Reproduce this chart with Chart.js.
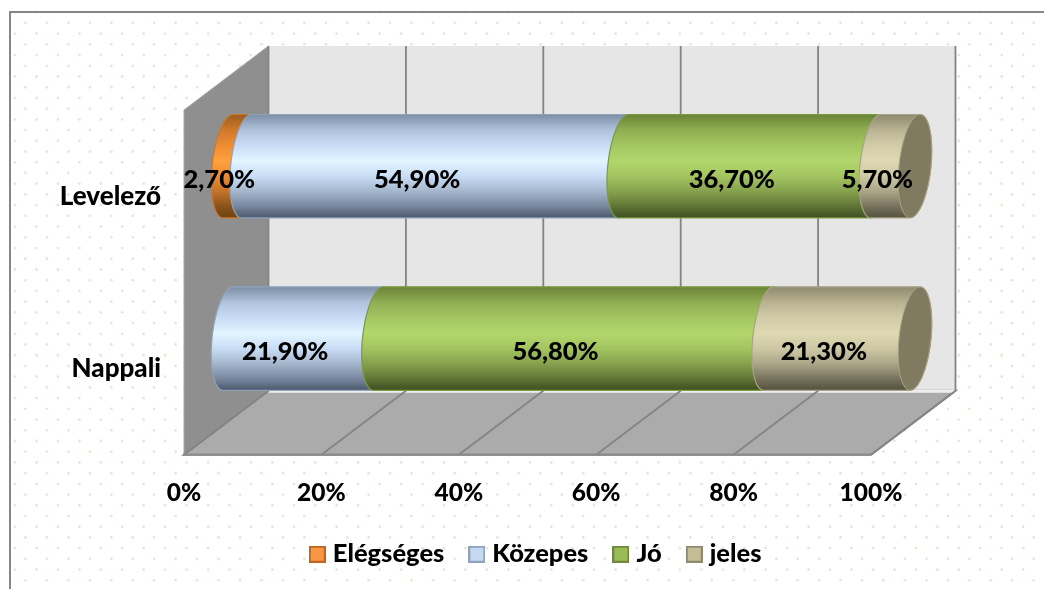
<!DOCTYPE html>
<html>
<head>
<meta charset="utf-8">
<style>html,body{margin:0;padding:0;background:#fff}canvas{display:block}</style>
<script src="https://cdn.jsdelivr.net/npm/chart.js@4"></script>
</head>
<body>
<canvas id="c" width="1044" height="589"></canvas>
<script>
const categories = ['Levelező', 'Nappali'];
const seriesNames = ['Elégséges', 'Közepes', 'Jó', 'jeles'];
const elegseges = [2.7, 0];
const kozepes = [54.9, 21.9];
const jo = [36.7, 56.8];
const jeles = [5.7, 21.3];
const tickValues = [0, 20, 40, 60, 80, 100];

const gradientStops = [0, .15, .3, .45, .6, .75, .9, 1];
const shades = [
  ['#9c5c1e','#d0792b','#ee8c33','#ffa23b','#ea8a31','#c2722a','#85501a','#70430f'],
  ['#7d8ea6','#b0c3dc','#c8dcf6','#e2f5ff','#c8dcf5','#a3b4ca','#74839a','#4b586a'],
  ['#6a8336','#8fae52','#a4c660','#b2d66c','#a3c45f','#84a04d','#5c7133','#3f4e22'],
  ['#8d8970','#b9b392','#d2cca8','#ded8b3','#cdc7a3','#a9a486','#746f5a','#555140']
];
const legendFill = ['#f79646', '#c6d9f1', '#9bbb59', '#c4bd97'];
const legendEdge = ['#c0651f', '#8fa2bb', '#6f8a3c', '#8e8a6e'];
const outline = ['#c97a2c', '#8ea3bd', '#7c9b3f', '#a8a386'];
const capFill = '#807b60';
const fontFamily = 'Lato, sans-serif';
const fontWeight = 900;

const depthX = 84.5, depthY = -64;   // back wall offset from the axis plane
const barX = 44, barY = -30;         // the bars stand half-way into the depth
const labelX = 26, labelY = -16.5;   // data labels sit slightly in front of them
const capA = 16, capK = -5;

function legendIcon(i) {
  const cv = document.createElement('canvas');
  cv.width = 17; cv.height = 17;
  const g = cv.getContext('2d');
  g.fillStyle = legendFill[i]; g.fillRect(1, 1, 15, 15);
  g.strokeStyle = legendEdge[i]; g.lineWidth = 2; g.strokeRect(1, 1, 15, 15);
  return cv;
}

function ell(cx, cy, b, t) {
  return [cx + capA * Math.cos(t) + capK * Math.sin(t), cy + b * Math.sin(t)];
}
function arc(ctx, cx, cy, b, from, to, first) {
  const n = 40;
  for (let i = 0; i <= n; i++) {
    const p = ell(cx, cy, b, from + (to - from) * i / n);
    if (i === 0 && first) ctx.moveTo(p[0], p[1]); else ctx.lineTo(p[0], p[1]);
  }
}

const backdrop = {
  id: 'backdrop',
  beforeDraw(chart) {
    const { ctx, chartArea: a, scales: { x } } = chart;
    ctx.save();
    ctx.fillStyle = '#fff';
    ctx.fillRect(0, 0, 1044, 589);
    ctx.fillStyle = '#e9e6d3';
    for (let r = 0; r < 56; r++) {
      const y = 12.2 + r * 10.72;
      for (let c = 0; c < 50; c++) {
        const px = (r % 2 ? 25.5 : 15) + c * 21.45;
        if (px < 1042 && y < 588) { ctx.beginPath(); ctx.arc(px, y, 1.4, 0, 7); ctx.fill(); }
      }
    }
    ctx.fillStyle = '#868686';
    ctx.fillRect(9, 11, 1035, 2);
    ctx.fillRect(9, 11, 2, 578);

    const L = a.left, R = a.right, T = a.top, B = a.bottom;
    // back wall
    ctx.fillStyle = '#e6e6e6';
    ctx.fillRect(L + depthX, T + depthY, R - L, B - T);
    // floor
    ctx.fillStyle = '#ababab';
    ctx.beginPath();
    ctx.moveTo(L, B); ctx.lineTo(R, B); ctx.lineTo(R + depthX, B + depthY); ctx.lineTo(L + depthX, B + depthY);
    ctx.closePath(); ctx.fill();
    ctx.strokeStyle = '#8a8a8a'; ctx.lineWidth = 2; ctx.stroke();
    ctx.fillStyle = '#efefef';
    ctx.fillRect(L + depthX, B + depthY - 1, R - L, 3);
    // left wall
    ctx.fillStyle = '#8f8f8f';
    ctx.beginPath();
    ctx.moveTo(L, B); ctx.lineTo(L, T); ctx.lineTo(L + depthX, T + depthY); ctx.lineTo(L + depthX, B + depthY);
    ctx.closePath(); ctx.fill();
    ctx.strokeStyle = '#a6a6a6'; ctx.lineWidth = 1; ctx.stroke();
    // gridlines along the floor and up the back wall
    ctx.strokeStyle = '#848484'; ctx.lineWidth = 1.8;
    tickValues.forEach(v => {
      const px = x.getPixelForValue(v);
      ctx.beginPath();
      ctx.moveTo(px, B); ctx.lineTo(px + depthX, B + depthY); ctx.lineTo(px + depthX, T + depthY);
      ctx.stroke();
    });
    ctx.strokeStyle = '#8a8a8a'; ctx.lineWidth = 2;
    ctx.beginPath(); ctx.moveTo(L - 1, B); ctx.lineTo(R, B); ctx.stroke();
    ctx.restore();
  }
};

const cylinders = {
  id: 'cylinders',
  beforeDatasetsDraw(chart) {
    const ctx = chart.ctx;
    ctx.save();
    categories.forEach((_, idx) => {
      let last = null;
      chart.data.datasets.forEach((ds, dsi) => {
        const el = chart.getDatasetMeta(dsi).data[idx];
        if (!ds.data[idx]) return;
        const cy = el.y + barY, b = el.height / 2;
        const sx = el.base + barX, ex = el.x + barX;
        const g = ctx.createLinearGradient(0, cy - b, 0, cy + b);
        gradientStops.forEach((s, k) => g.addColorStop(s, shades[dsi][k]));
        ctx.beginPath();
        arc(ctx, sx, cy, b, -Math.PI / 2, -3 * Math.PI / 2, true);
        arc(ctx, ex, cy, b, Math.PI / 2, -Math.PI / 2, false);
        ctx.closePath();
        ctx.fillStyle = g; ctx.fill();
        ctx.strokeStyle = outline[dsi]; ctx.lineWidth = 1.2; ctx.stroke();
        last = { ex, cy, b, dsi };
      });
      if (last) {
        ctx.beginPath();
        arc(ctx, last.ex, last.cy, last.b, 0, 2 * Math.PI, true);
        ctx.closePath();
        ctx.fillStyle = capFill; ctx.fill();
        ctx.strokeStyle = outline[last.dsi]; ctx.lineWidth = 1; ctx.stroke();
      }
    });
    ctx.font = fontWeight + ' 25.5px ' + fontFamily;
    ctx.fillStyle = '#000';
    ctx.textAlign = 'center';
    ctx.textBaseline = 'middle';
    chart.data.datasets.forEach((ds, dsi) => {
      chart.getDatasetMeta(dsi).data.forEach((el, idx) => {
        const v = ds.data[idx];
        if (!v) return;
        ctx.fillText(v.toFixed(2).replace('.', ',') + '%', (el.base + el.x) / 2 + labelX, el.y + labelY);
      });
    });
    ctx.restore();
    return false;
  }
};

const tickFont = { family: fontFamily, weight: fontWeight, size: 24.5 };
const categoryFont = { family: fontFamily, weight: fontWeight, size: 26 };
const legendFont = { family: fontFamily, weight: fontWeight, size: 25.5 };

new Chart(document.getElementById('c'), {
  type: 'bar',
  data: {
    labels: categories,
    datasets: [elegseges, kozepes, jo, jeles].map((values, i) => ({
      label: seriesNames[i],
      data: values,
      backgroundColor: legendFill[i],
      borderColor: legendEdge[i],
      barPercentage: 0.6,
      categoryPercentage: 1
    }))
  },
  options: {
    indexAxis: 'y',
    responsive: false,
    animation: false,
    layout: { padding: { top: 110, left: 32, right: 0, bottom: 12 } },
    scales: {
      x: {
        stacked: true, min: 0, max: 100,
        afterBuildTicks(s) { s.ticks = tickValues.map(value => ({ value })); },
        afterFit(s) { s.height = 57; },
        grid: { display: false }, border: { display: false },
        ticks: { color: '#000', font: tickFont, padding: 16, maxRotation: 0, autoSkip: false, callback: v => v + '%' }
      },
      y: {
        stacked: true,
        afterFit(s) { s.width = 152; },
        grid: { display: false }, border: { display: false },
        ticks: { color: '#000', font: categoryFont, padding: 15 }
      },
      spacer: {
        type: 'linear', position: 'right', display: true,
        afterFit(s) { s.width = 173; },
        grid: { display: false }, border: { display: false },
        ticks: { display: false }
      }
    },
    plugins: {
      tooltip: { enabled: false },
      legend: {
        position: 'bottom',
        labels: {
          color: '#000', font: legendFont, padding: 29.75,
          usePointStyle: true, pointStyleWidth: 5.5, boxHeight: 25,
          generateLabels(chart) {
            return Chart.defaults.plugins.legend.labels.generateLabels(chart).map((it, i) => {
              it.pointStyle = legendIcon(i);
              return it;
            });
          }
        }
      }
    }
  },
  plugins: [backdrop, cylinders]
});
</script>
</body>
</html>
